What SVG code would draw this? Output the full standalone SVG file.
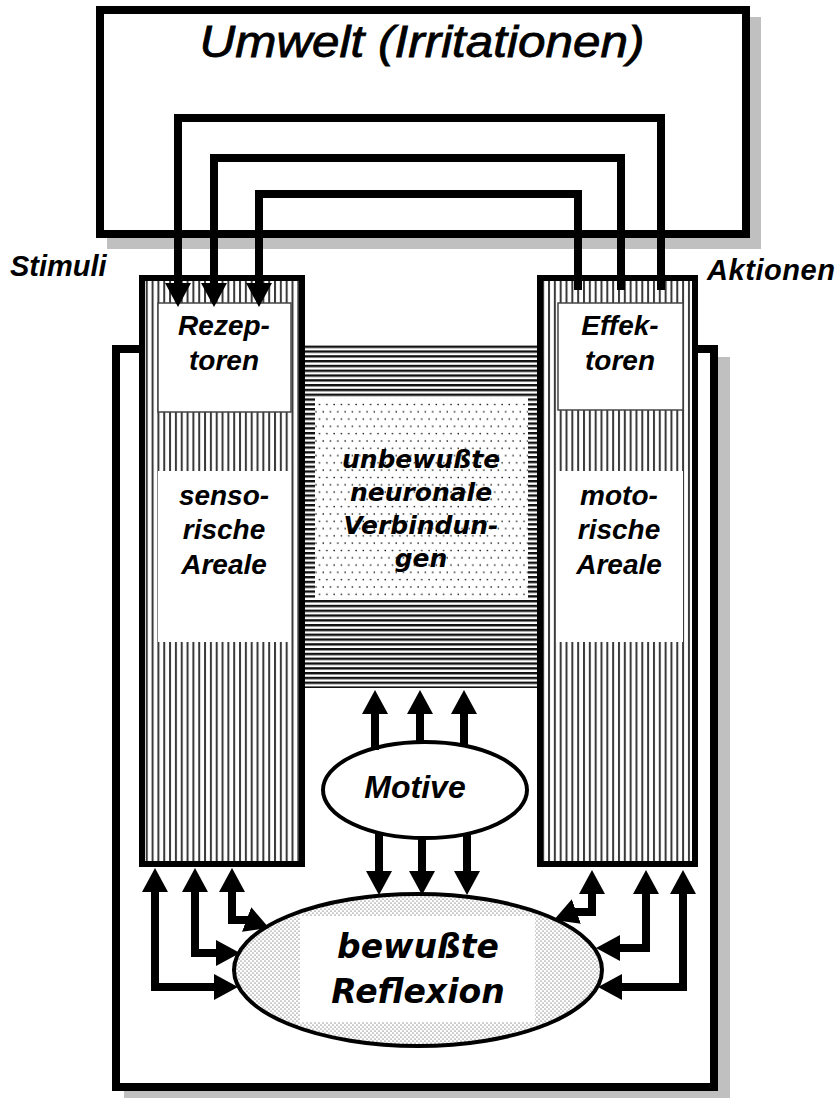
<svg xmlns="http://www.w3.org/2000/svg" width="840" height="1098" viewBox="0 0 840 1098">
<style>
.box{fill:#fff;stroke:#000;stroke-width:8}
.shadow{fill:#c0c0c0}
.col{fill:url(#vh);stroke:#000;stroke-width:6}
.con{fill:none;stroke:#000;stroke-width:8;stroke-linejoin:miter;stroke-linecap:butt}
.arr{marker-end:url(#ah)}
.bi{marker-start:url(#ah);marker-end:url(#ah)}
.lbl{font-family:"Liberation Sans",Arial,sans-serif;font-weight:bold;font-style:italic;fill:#000}
.ttl{font-family:"Liberation Sans",Arial,sans-serif;font-style:italic;fill:#000}
.dv{font-family:"DejaVu Sans","Liberation Sans",sans-serif;font-weight:bold;font-style:italic;fill:#000}
.mid{text-anchor:middle}
</style>
<defs>
<pattern id="vh" patternUnits="userSpaceOnUse" width="5.83" height="20">
<rect width="5.83" height="20" fill="#fff"/>
<rect x="0" width="2" height="20" fill="#3a3a3a"/>
</pattern>
<pattern id="hh" patternUnits="userSpaceOnUse" width="20" height="4.8">
<rect width="20" height="4.8" fill="#fff"/>
<rect width="20" height="2.4" fill="#111"/>
</pattern>
<pattern id="dots" patternUnits="userSpaceOnUse" width="7.3" height="14.6">
<rect width="7.3" height="14.6" fill="#fff"/>
<circle cx="2" cy="3" r="0.8" fill="#000"/>
<circle cx="5.65" cy="10.3" r="0.8" fill="#000"/>
</pattern>
<pattern id="fdots" patternUnits="userSpaceOnUse" width="4" height="4">
<rect width="4" height="4" fill="#fff"/>
<circle cx="1" cy="1" r="0.6" fill="#333"/>
<circle cx="3" cy="3" r="0.6" fill="#333"/>
</pattern>
<clipPath id="refclip"><ellipse cx="418" cy="970" rx="184" ry="76"/></clipPath>
<marker id="ah" viewBox="0 0 24 26" refX="10" refY="13" markerWidth="24" markerHeight="26" markerUnits="userSpaceOnUse" orient="auto-start-reverse">
<path d="M0,0 L24,13 L0,26 z" fill="#000"/>
</marker>
</defs>
<rect width="840" height="1098" fill="#fff"/>

<g id="frame">
<rect class="shadow" x="124" y="357" width="606" height="746"/>
<rect class="box" x="116" y="349" width="598" height="738"/>
</g>

<g id="umwelt">
<rect class="shadow" x="107" y="17" width="654" height="232"/>
<rect class="box" x="100" y="10" width="646" height="224"/>
<text class="ttl mid" x="422" y="57" font-size="44" stroke="#000" stroke-width="0.8" textLength="445" lengthAdjust="spacingAndGlyphs">Umwelt (Irritationen)</text>
</g>

<g id="unbewusst">
<rect x="305" y="345" width="232" height="343" fill="url(#hh)"/>
<rect x="315" y="398" width="213" height="200" fill="url(#dots)"/>
<text class="dv mid" font-size="25"><tspan x="421" y="468">unbewußte</tspan><tspan x="421" y="501">neuronale</tspan><tspan x="421" y="534">Verbindun-</tspan><tspan x="421" y="567">gen</tspan></text>
</g>

<g id="sensorisch">
<rect class="col" x="142" y="278" width="160" height="586"/>
<rect x="158" y="303" width="133" height="109" fill="#fff" stroke="#444" stroke-width="1.5"/>
<rect x="158" y="471" width="133" height="171" fill="#fff"/>
<text class="lbl mid" font-size="28"><tspan x="224" y="335">Rezep-</tspan><tspan x="224" y="370">toren</tspan></text>
<text class="lbl mid" font-size="28"><tspan x="224" y="505">senso-</tspan><tspan x="224" y="539">rische</tspan><tspan x="224" y="574">Areale</tspan></text>
</g>

<g id="motorisch">
<rect class="col" x="540" y="278" width="155" height="586"/>
<rect x="558" y="303" width="125" height="107" fill="#fff" stroke="#444" stroke-width="1.5"/>
<rect x="556" y="471" width="127" height="171" fill="#fff"/>
<text class="lbl mid" font-size="28"><tspan x="620" y="335">Effek-</tspan><tspan x="620" y="370">toren</tspan></text>
<text class="lbl mid" font-size="28"><tspan x="619" y="505">moto-</tspan><tspan x="619" y="539">rische</tspan><tspan x="619" y="574">Areale</tspan></text>
</g>

<g id="motive">
<ellipse cx="425" cy="790" rx="102" ry="48" fill="#fff" stroke="#000" stroke-width="4"/>
<text class="lbl mid" x="415" y="798" font-size="32">Motive</text>
</g>

<g id="reflexion">
<ellipse cx="418" cy="970" rx="184" ry="76" fill="url(#fdots)"/>
<rect x="300" y="916" width="235" height="106" fill="#fff" clip-path="url(#refclip)"/>
<ellipse cx="418" cy="970" rx="184" ry="76" fill="none" stroke="#000" stroke-width="4"/>
<text class="dv mid" font-size="33"><tspan x="418" y="958">bewußte</tspan><tspan x="418" y="1003">Reflexion</tspan></text>
</g>

<g id="connectors">
<path class="con arr" d="M661,290 V118 H178 V293"/>
<path class="con arr" d="M621,290 V158 H214 V293"/>
<path class="con arr" d="M578,290 V194 H259 V293"/>
<path class="con arr" d="M375,750 V704"/>
<path class="con arr" d="M420,744 V704"/>
<path class="con arr" d="M464,747 V704"/>
<path class="con arr" d="M379,834 V881"/>
<path class="con arr" d="M422,838 V881"/>
<path class="con arr" d="M467,834 V881"/>
<path class="con bi" d="M155,882 V987 H224"/>
<path class="con bi" d="M195,882 V953 H226"/>
<path class="con bi" d="M232,882 V920 H248 L256,923"/>
<path class="con bi" d="M592,884 V912 H575 L567,915"/>
<path class="con bi" d="M646,884 V948 H610"/>
<path class="con bi" d="M683,884 V987 H612"/>
</g>

<g id="labels">
<text class="lbl" x="10" y="276" font-size="29">Stimuli</text>
<text class="lbl" x="707" y="280" font-size="29" textLength="128">Aktionen</text>
</g>
</svg>
